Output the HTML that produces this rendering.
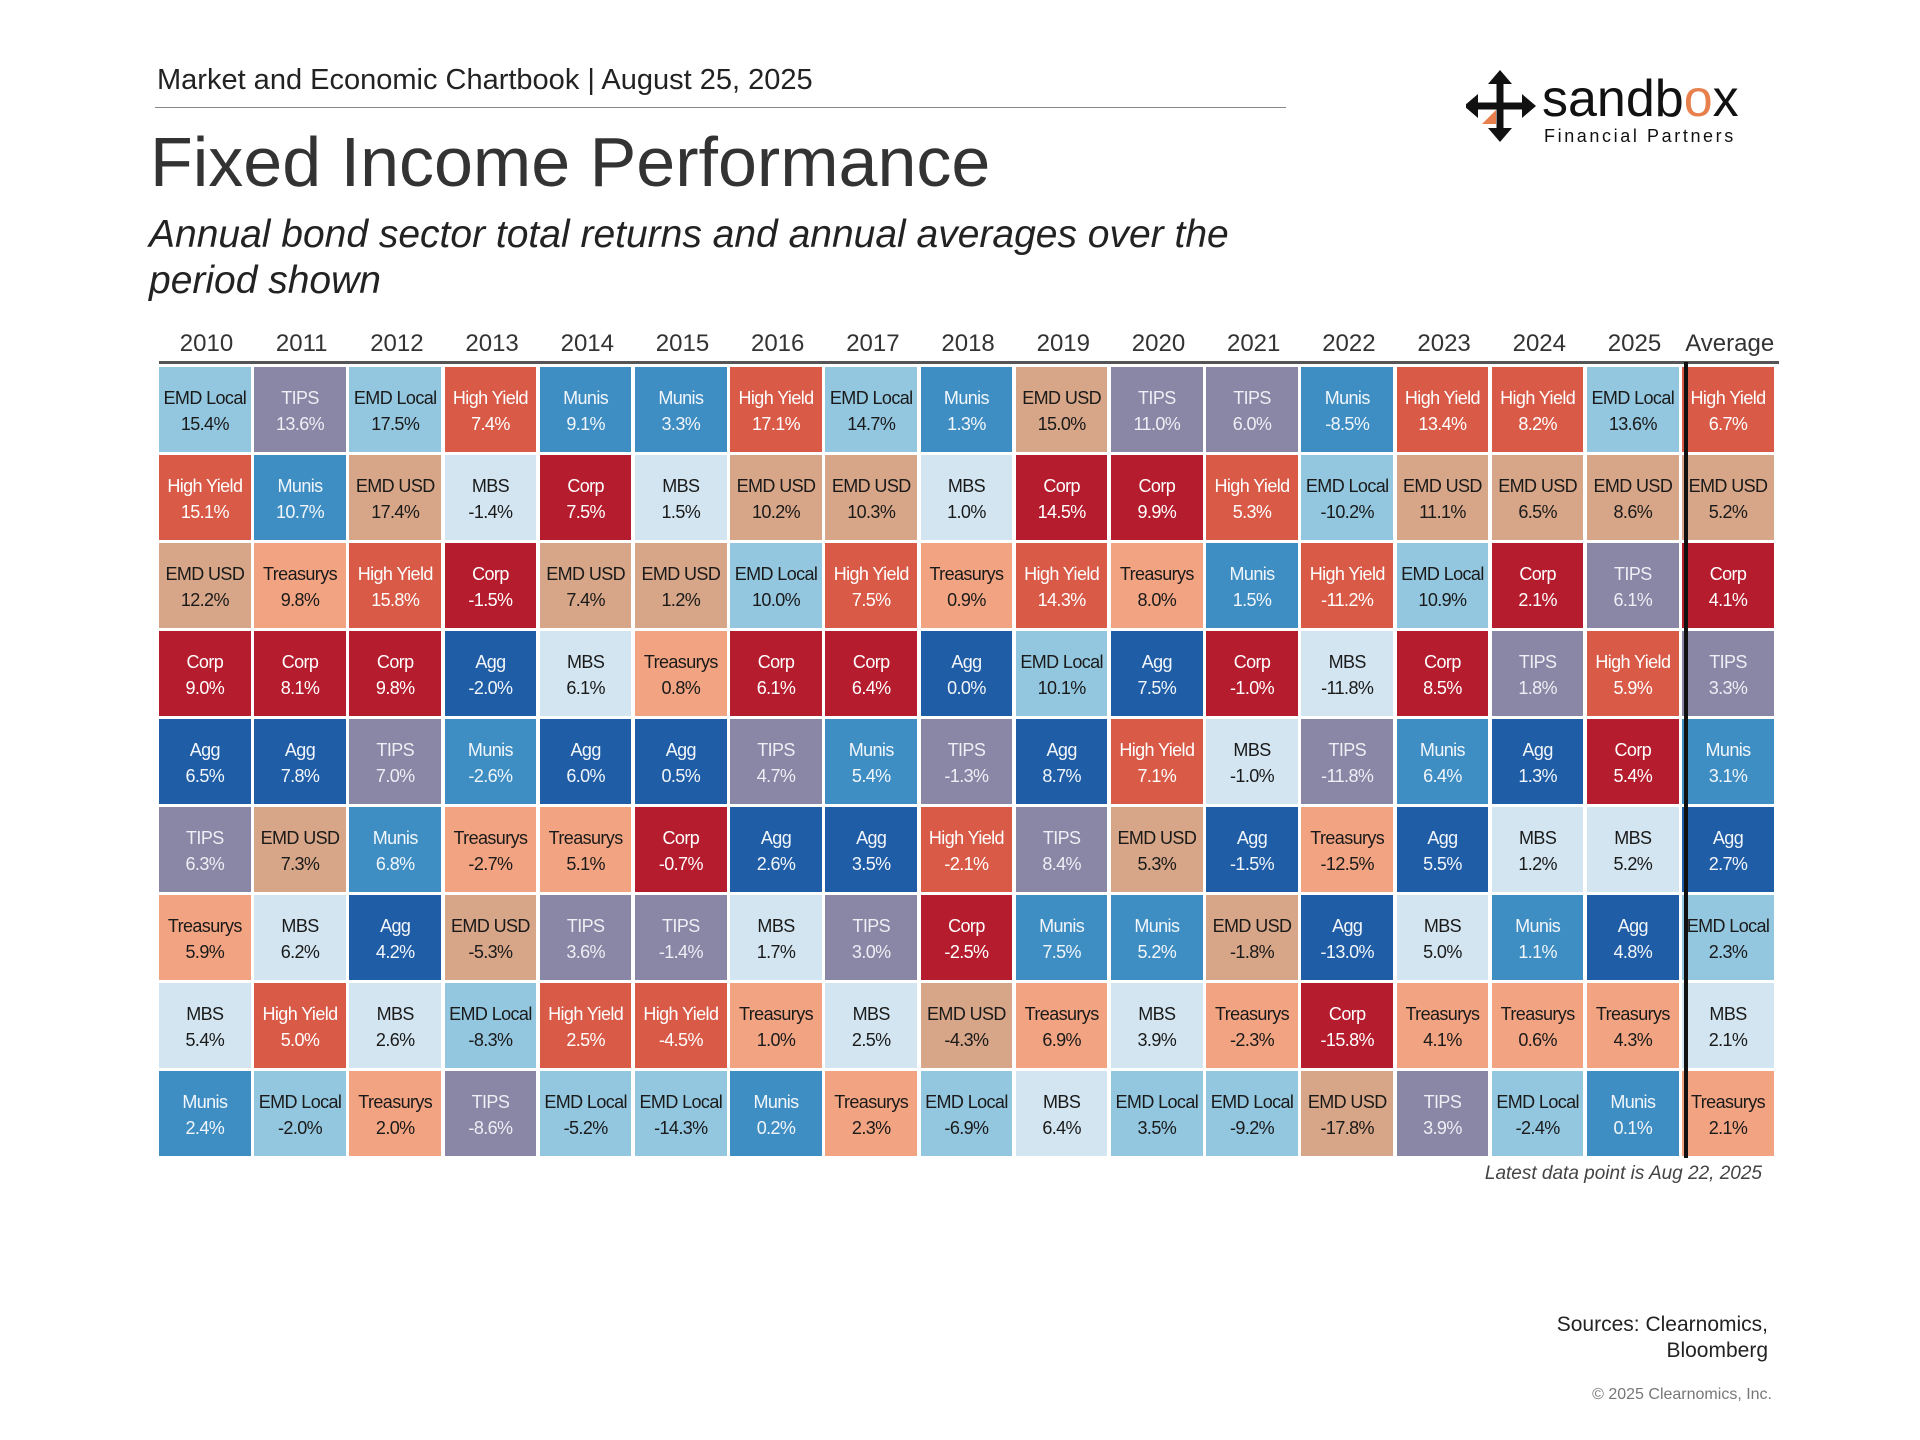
<!DOCTYPE html>
<html><head><meta charset="utf-8">
<style>
body{margin:0;width:1920px;height:1440px;background:#fff;font-family:"Liberation Sans",sans-serif;position:relative;overflow:hidden}
.abs{position:absolute}
.cell{position:absolute;display:flex;flex-direction:column;align-items:center;justify-content:center;font-size:18px;line-height:26px;letter-spacing:-0.6px;white-space:nowrap}
.yr{position:absolute;top:330px;font-size:24px;color:#333;text-align:center;width:95px}
</style></head><body>
<div class="abs" style="left:157px;top:64px;font-size:29px;color:#222">Market and Economic Chartbook | August 25, 2025</div>
<div class="abs" style="left:155px;top:107px;width:1131px;height:1px;background:#888"></div>
<div class="abs" style="left:150px;top:122px;font-size:70px;color:#333">Fixed Income Performance</div>
<div class="abs" style="left:149px;top:212px;font-size:39px;font-style:italic;color:#222;line-height:46px;width:1150px">Annual bond sector total returns and annual averages over the period shown</div>
<svg class="abs" style="left:1466px;top:64px" width="300" height="100">
<g fill="#111" stroke="#111">
<line x1="34" y1="14" x2="34" y2="70" stroke-width="7"/>
<line x1="6" y1="42" x2="62" y2="42" stroke-width="7"/>
<polygon points="34,6 22,20 46,20" stroke="none"/>
<polygon points="34,78 22,64 46,64" stroke="none"/>
<polygon points="-2,42 12,30 12,54" stroke="none"/>
<polygon points="70,42 56,30 56,54" stroke="none"/>
</g>
<polygon points="16,60 30,46 30,60" fill="#e8804d"/>
<text x="76" y="52" font-family="Liberation Sans" font-size="52" fill="#111">sandb<tspan fill="#e8804d">o</tspan>x</text>
<text x="78" y="78" font-family="Liberation Sans" font-size="18" letter-spacing="2.6" fill="#111">Financial Partners</text>
</svg>
<div class="abs" style="left:159px;top:361px;width:1620px;height:3px;background:#555"></div>
<div id="grid"></div>
<div class="abs" style="left:1684px;top:362px;width:4px;height:796px;background:#111"></div>
<div class="abs" style="right:158px;top:1163px;font-size:19px;font-style:italic;color:#444">Latest data point is Aug 22, 2025</div>
<div class="abs" style="right:152px;top:1312px;font-size:21px;color:#222;text-align:right;line-height:26px">Sources: Clearnomics,<br>Bloomberg</div>
<div class="abs" style="right:148px;top:1386px;font-size:16px;color:#777">© 2025 Clearnomics, Inc.</div>
<script>
const years=["2010","2011","2012","2013","2014","2015","2016","2017","2018","2019","2020","2021","2022","2023","2024","2025","Average"];
const sectorsByYear=[
["EMD Local","High Yield","EMD USD","Corp","Agg","TIPS","Treasurys","MBS","Munis"],
["TIPS","Munis","Treasurys","Corp","Agg","EMD USD","MBS","High Yield","EMD Local"],
["EMD Local","EMD USD","High Yield","Corp","TIPS","Munis","Agg","MBS","Treasurys"],
["High Yield","MBS","Corp","Agg","Munis","Treasurys","EMD USD","EMD Local","TIPS"],
["Munis","Corp","EMD USD","MBS","Agg","Treasurys","TIPS","High Yield","EMD Local"],
["Munis","MBS","EMD USD","Treasurys","Agg","Corp","TIPS","High Yield","EMD Local"],
["High Yield","EMD USD","EMD Local","Corp","TIPS","Agg","MBS","Treasurys","Munis"],
["EMD Local","EMD USD","High Yield","Corp","Munis","Agg","TIPS","MBS","Treasurys"],
["Munis","MBS","Treasurys","Agg","TIPS","High Yield","Corp","EMD USD","EMD Local"],
["EMD USD","Corp","High Yield","EMD Local","Agg","TIPS","Munis","Treasurys","MBS"],
["TIPS","Corp","Treasurys","Agg","High Yield","EMD USD","Munis","MBS","EMD Local"],
["TIPS","High Yield","Munis","Corp","MBS","Agg","EMD USD","Treasurys","EMD Local"],
["Munis","EMD Local","High Yield","MBS","TIPS","Treasurys","Agg","Corp","EMD USD"],
["High Yield","EMD USD","EMD Local","Corp","Munis","Agg","MBS","Treasurys","TIPS"],
["High Yield","EMD USD","Corp","TIPS","Agg","MBS","Munis","Treasurys","EMD Local"],
["EMD Local","EMD USD","TIPS","High Yield","Corp","MBS","Agg","Treasurys","Munis"],
["High Yield","EMD USD","Corp","TIPS","Munis","Agg","EMD Local","MBS","Treasurys"]];
const valuesByYear=[
[15.4,15.1,12.2,9.0,6.5,6.3,5.9,5.4,2.4],
[13.6,10.7,9.8,8.1,7.8,7.3,6.2,5.0,-2.0],
[17.5,17.4,15.8,9.8,7.0,6.8,4.2,2.6,2.0],
[7.4,-1.4,-1.5,-2.0,-2.6,-2.7,-5.3,-8.3,-8.6],
[9.1,7.5,7.4,6.1,6.0,5.1,3.6,2.5,-5.2],
[3.3,1.5,1.2,0.8,0.5,-0.7,-1.4,-4.5,-14.3],
[17.1,10.2,10.0,6.1,4.7,2.6,1.7,1.0,0.2],
[14.7,10.3,7.5,6.4,5.4,3.5,3.0,2.5,2.3],
[1.3,1.0,0.9,0.0,-1.3,-2.1,-2.5,-4.3,-6.9],
[15.0,14.5,14.3,10.1,8.7,8.4,7.5,6.9,6.4],
[11.0,9.9,8.0,7.5,7.1,5.3,5.2,3.9,3.5],
[6.0,5.3,1.5,-1.0,-1.0,-1.5,-1.8,-2.3,-9.2],
[-8.5,-10.2,-11.2,-11.8,-11.8,-12.5,-13.0,-15.8,-17.8],
[13.4,11.1,10.9,8.5,6.4,5.5,5.0,4.1,3.9],
[8.2,6.5,2.1,1.8,1.3,1.2,1.1,0.6,-2.4],
[13.6,8.6,6.1,5.9,5.4,5.2,4.8,4.3,0.1],
[6.7,5.2,4.1,3.3,3.1,2.7,2.3,2.1,2.1]];
const colors={"EMD Local":["#93c6df","#1a1a1a"],"TIPS":["#8a86a5","#eeeef5"],"High Yield":["#d85a47","#fff"],"Munis":["#3e8ec4","#f2f6fa"],"EMD USD":["#d7a587","#1a1a1a"],"Treasurys":["#f2a482","#1a1a1a"],"Corp":["#b51c2d","#fff"],"Agg":["#1f5da6","#f2f6fa"],"MBS":["#d3e5f0","#1a1a1a"]};
const x0=159,colW=95.2,y0=367,rowH=88;
const grid=document.getElementById('grid');
years.forEach((y,i)=>{
  const d=document.createElement('div');
  d.className='yr';d.style.left=(x0+i*colW)+'px';d.textContent=y;
  
  
  grid.appendChild(d);
  sectorsByYear[i].forEach((s,j)=>{
    const c=document.createElement('div');
    c.className='cell';
    const col=colors[s];
    c.style.left=(x0+i*colW)+'px';c.style.top=(y0+j*rowH)+'px';
    c.style.width=(colW-3.5)+'px';c.style.height=(rowH-3.5)+'px';
    c.style.paddingTop='4px';c.style.boxSizing='border-box';
    c.style.background=col[0];c.style.color=col[1];
    c.innerHTML='<span>'+s+'</span><span>'+valuesByYear[i][j].toFixed(1)+'%</span>';
    
    
    grid.appendChild(c);
  });
});
</script>
</body></html>
